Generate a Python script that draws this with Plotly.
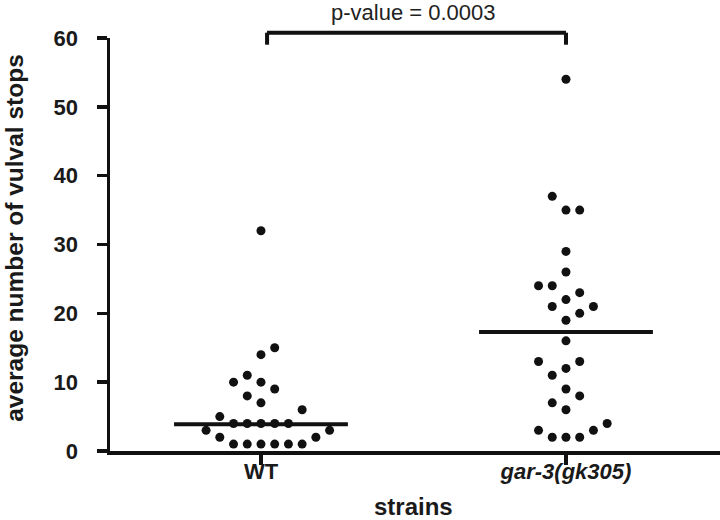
import plotly.graph_objects as go

# ---- data ----
categories = ["WT", "gar-3(gk305)"]
tick_labels = ["<b>WT</b>", "<b><i>gar-3(gk305)</i></b>"]
wt_values = [32, 15, 14, 11, 10, 10, 9, 8, 7, 6, 5, 4, 4, 4, 4, 4, 3, 3, 2, 2, 1, 1, 1, 1, 1, 1]
gar3_values = [54, 37, 35, 35, 29, 26, 24, 24, 23, 22, 21, 21, 20, 19, 16, 13, 13, 12, 11,
               9, 8, 7, 6, 4, 3, 3, 2, 2, 2]
line_values = [3.9, 17.3]
y_ticks = [0, 10, 20, 30, 40, 50, 60]
p_text = "p-value = 0.0003"
y_title = "average number of vulval stops"
x_title = "strains"

# ---- layout constants ----
W, H = 720, 520
PLOT_L, PLOT_R, PLOT_T, PLOT_B = 110, 720, 38.3, 451   # plot area in pixels
ML, MR, MT, MB = PLOT_L, W - PLOT_R, PLOT_T, H - PLOT_B
Y_RANGE = [0, 60]
X_RANGE = [-0.495, 1.505]
plot_w = PLOT_R - PLOT_L
plot_h = PLOT_B - PLOT_T
px_per_unit = plot_h / (Y_RANGE[1] - Y_RANGE[0])
DOT_STEP = 0.045      # horizontal spacing of swarm columns (category units)
COLLIDE_PX = 14.4     # vertical clearance needed within one swarm column
HALF_LINE = 0.285
INK = "#111111"
TXT = "#1a1a1a"
FONT = "Arial, Liberation Sans, sans-serif"


def px_x(px):
    return (px - PLOT_L) / plot_w


def px_y(py):
    return (PLOT_B - py) / plot_h


def swarm_columns(values):
    """Greedy beeswarm: integer column index per value."""
    order = sorted(range(len(values)), key=lambda i: values[i])
    placed = []
    cols = [0] * len(values)
    for i in order:
        y = values[i] * px_per_unit
        left = sum(1 for c, _ in placed if c < 0)
        right = sum(1 for c, _ in placed if c > 0)
        chosen = None
        for k in range(0, 40):
            if k == 0:
                cands = [0]
            elif left < right:
                cands = [-k, k]
            else:
                cands = [k, -k]
            for c in cands:
                if all(not (pc == c and abs(py - y) < COLLIDE_PX) for pc, py in placed):
                    chosen = c
                    break
            if chosen is not None:
                break
        cols[i] = chosen
        placed.append((chosen, y))
    return cols


fig = go.Figure()
for idx, vals in enumerate([wt_values, gar3_values]):
    cols = swarm_columns(vals)
    fig.add_trace(go.Scatter(
        x=[idx + c * DOT_STEP for c in cols], y=vals, mode="markers", name=categories[idx],
        marker=dict(size=9, color=INK, line=dict(width=0)),
        cliponaxis=False, showlegend=False, hoverinfo="skip"))
    fig.add_trace(go.Scatter(
        x=[idx - HALF_LINE, idx + HALF_LINE], y=[line_values[idx]] * 2, mode="lines",
        line=dict(color=INK, width=4), showlegend=False, hoverinfo="skip"))

# significance bracket
shape_line = dict(color=INK, width=4)
bracket_y = px_y(33)
bracket_foot = px_y(45)
fig.add_shape(type="line", xref="x", yref="paper", x0=0.02, x1=1.0, y0=bracket_y, y1=bracket_y,
              line=shape_line)
fig.add_shape(type="line", xref="x", yref="paper", x0=0.02, x1=0.02, y0=bracket_y, y1=bracket_foot,
              line=shape_line)
fig.add_shape(type="line", xref="x", yref="paper", x0=1.0, x1=1.0, y0=bracket_y, y1=bracket_foot,
              line=shape_line)

fig.add_annotation(text=p_text, xref="paper", yref="paper", x=px_x(413), y=px_y(13),
                   showarrow=False, xanchor="center", yanchor="middle",
                   font=dict(family=FONT, size=22, color="#222222"))
fig.add_annotation(text="<b>" + y_title + "</b>", xref="paper", yref="paper",
                   x=px_x(15), y=px_y(238), textangle=-90,
                   showarrow=False, xanchor="center", yanchor="middle",
                   font=dict(family=FONT, size=24.5, color=TXT))
fig.add_annotation(text="<b>" + x_title + "</b>", xref="paper", yref="paper",
                   x=px_x(413), y=px_y(506), showarrow=False,
                   xanchor="center", yanchor="middle",
                   font=dict(family=FONT, size=24, color=TXT))

fig.update_layout(
    width=W, height=H, margin=dict(l=ML, r=MR, t=MT, b=MB, pad=0),
    paper_bgcolor="white", plot_bgcolor="white",
    font=dict(family=FONT, color=TXT),
    xaxis=dict(range=X_RANGE, tickvals=[0, 1], ticktext=tick_labels, showgrid=False,
               zeroline=False, showline=True, linecolor=INK, linewidth=3.5,
               ticks="outside", ticklen=10, tickwidth=3.5, tickcolor=INK,
               ticklabelstandoff=-12,
               tickfont=dict(family=FONT, size=22, color=TXT)),
    yaxis=dict(range=Y_RANGE, tickvals=y_ticks, showgrid=False, zeroline=False,
               showline=True, linecolor=INK, linewidth=3.5,
               ticks="outside", ticklen=10, tickwidth=3.5, tickcolor=INK,
               ticklabelstandoff=14,
               tickfont=dict(family=FONT, size=22, color=TXT, weight="bold")),
)

fig.write_html("out.html", config={"displayModeBar": False, "staticPlot": True},
               post_script="document.body.style.margin='0';")
